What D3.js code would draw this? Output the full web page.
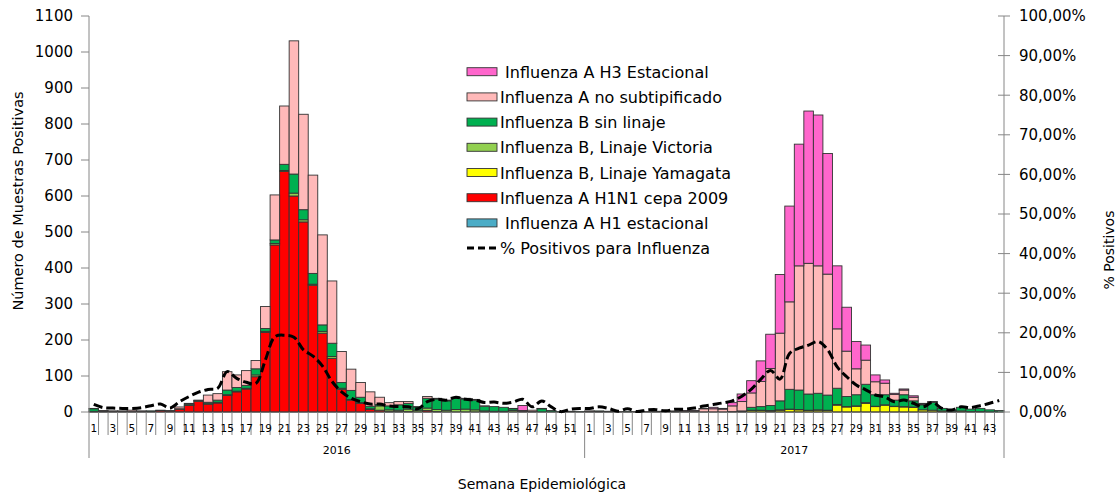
<!DOCTYPE html>
<html><head><meta charset="utf-8">
<script src="https://cdn.jsdelivr.net/npm/d3@7"></script>
<style>body{margin:0;background:#fff} svg{display:block} text{font-family:"DejaVu Sans",Verdana,sans-serif;fill:#000}</style>
</head><body><svg id="c" width="1116" height="494"></svg>
<script>
// ---------- DATA ----------
const years = ["2016", "2017"];
const weeks2016 = [1,2,3,4,5,6,7,8,9,10,11,12,13,14,15,16,17,18,19,20,21,22,23,24,25,26,27,28,29,30,31,32,33,34,35,36,37,38,39,40,41,42,43,44,45,46,47,48,49,50,51,52];
const weeks2017 = [1,2,3,4,5,6,7,8,9,10,11,12,13,14,15,16,17,18,19,20,21,22,23,24,25,26,27,28,29,30,31,32,33,34,35,36,37,38,39,40,41,42,43,44];

// values: 52 weeks of 2016 followed by 44 weeks of 2017
const h1Estacional = [
  0,0,0,0,0,0,0,0,0,0, 0,0,0,0,0,0,0,0,0,0, 0,0,0,0,0,0,0,0,0,0, 0,0,0,0,0,0,0,0,0,0, 0,0,0,0,0,0,0,0,0,0, 0,0,
  0,0,0,0,0,0,0,0,0,0, 0,0,0,0,0,0,0,0,0,0, 0,0,0,0,0,0,0,0,0,0, 0,0,0,0,0,0,0,0,0,0, 0,0,0,0];
const h1n1 = [
  1,1,1,1,1,2,2,4,3,8, 18,30,22,25,46,56,64,98,221,464, 668,600,528,352,219,149,63,33,24,7, 5,1,0,1,0,4,0,0,0,0, 0,0,0,0,0,0,0,0,0,0, 0,0,
  0,1,0,0,0,0,0,0,0,0, 0,0,0,0,0,0,0,0,0,0, 0,0,0,0,0,0,0,0,0,0, 0,0,0,0,0,0,0,0,0,0, 0,0,0,0];
const yamagata = [
  0,0,0,0,0,0,0,0,0,0, 0,0,0,0,0,0,0,0,0,0, 1,0,0,0,0,0,0,0,0,0, 0,0,1,0,0,0,1,0,0,0, 0,0,0,0,0,0,0,0,0,0, 0,0,
  0,0,0,0,0,0,0,0,0,1, 0,0,0,0,0,1,1,4,4,3, 5,7,6,4,5,4,19,14,16,24, 15,19,15,14,13,6,5,3,1,3, 1,1,0,0];
const victoria = [
  1,0,0,0,0,0,0,0,0,0, 1,0,1,2,2,2,2,5,3,4, 2,8,6,3,5,5,3,2,2,2, 12,5,4,7,5,7,6,5,7,8, 6,3,2,2,4,0,0,0,0,0, 0,0,
  0,0,0,0,0,0,0,0,0,0, 0,0,0,0,0,0,0,1,1,1, 1,1,1,1,1,1,2,1,1,2, 1,1,1,1,1,0,0,0,0,0, 0,0,0,0];
const bSinLinaje = [
  7,2,1,1,0,0,1,0,0,1, 3,2,4,6,13,10,8,17,8,10, 17,53,28,30,18,37,16,25,15,7, 4,11,15,16,9,27,29,26,32,28, 27,13,13,11,5,2,1,9,4,1, 2,1,
  2,2,2,0,1,0,0,0,1,0, 0,0,0,0,0,0,2,8,10,14, 25,55,54,45,46,42,45,28,31,51, 32,28,17,33,17,14,22,7,4,10, 7,9,6,4];
const aNoSubtip = [
  1,1,1,1,4,1,0,1,1,5, 2,1,20,18,51,35,41,23,61,125, 162,370,265,273,250,173,86,59,41,40, 20,9,9,5,1,5,2,2,2,2, 2,1,0,0,1,2,4,1,0,0, 0,0,
  1,0,0,1,0,1,1,2,1,2, 3,3,9,9,8,16,26,40,70,103, 188,243,345,363,354,336,165,126,72,67, 36,32,16,13,10,2,1,0,0,0, 0,0,0,0];
const h3Estacional = [
  0,0,0,0,0,0,0,0,0,0, 0,0,0,0,0,0,0,0,0,0, 0,0,0,0,0,0,0,0,0,0, 0,0,0,0,0,0,0,0,0,0, 0,0,0,0,0,14,0,0,0,0, 0,0,
  0,0,0,0,0,0,0,0,0,0, 1,1,1,4,2,9,21,34,57,95, 163,266,338,423,419,335,175,122,76,42, 19,9,3,3,4,2,1,0,0,0, 0,0,0,0];
// % positivos para influenza
const pctPositivos = [
  1.9,1.1,1.0,0.9,0.9,1.1,1.6,2.0,1.0,2.6, 3.9,5.0,5.7,6.0,10.2,8.5,7.5,7.2,13.1,19.0, 19.4,18.9,15.7,14.1,11.6,7.7,5.1,3.5,2.6,2.0,
  2.0,1.5,1.4,1.3,0.8,2.6,3.2,3.0,3.7,3.2, 3.0,2.4,2.5,2.2,2.5,3.2,1.3,2.8,1.3,0.1, 0.7,0.9,
  0.9,1.3,0.9,0.2,0.8,0.1,0.5,0.6,0.3,0.7, 0.7,1.0,1.5,1.9,2.3,2.8,4.0,5.8,8.3,10.5, 8.3,14.8,16.1,16.9,17.8,15.7,11.4,8.9,6.8,5.6,
  4.3,3.8,2.6,3.0,2.2,1.3,2.4,0.9,0.5,1.3, 1.1,1.6,2.2,2.9];

const leftTicks = [0,100,200,300,400,500,600,700,800,900,1000,1100];
const rightTicks = [0,0.1,0.2,0.3,0.4,0.5,0.6,0.7,0.8,0.9,1.0];

const seriesDefs = [
  {key:"h1", name:" Influenza A H1 estacional", color:"#4BACC6", values:h1Estacional},
  {key:"h1n1", name:"Influenza A H1N1 cepa 2009", color:"#FF0000", values:h1n1},
  {key:"yam", name:"Influenza B, Linaje Yamagata", color:"#FFFF00", values:yamagata},
  {key:"vic", name:"Influenza B, Linaje Victoria", color:"#92D050", values:victoria},
  {key:"bsl", name:"Influenza B sin linaje", color:"#00B050", values:bSinLinaje},
  {key:"ans", name:"Influenza A no subtipificado", color:"#FFB9B9", values:aNoSubtip},
  {key:"h3", name:" Influenza A H3 Estacional", color:"#FF66CC", values:h3Estacional}
];

// ---------- BUILD ----------
const cats = [];
weeks2016.forEach(w => cats.push({id:"2016-"+w, week:w, year:"2016"}));
weeks2017.forEach(w => cats.push({id:"2017-"+w, week:w, year:"2017"}));
const rows = cats.map((c,i) => {
  const r = {id:c.id};
  seriesDefs.forEach(s => r[s.key] = s.values[i]);
  return r;
});

const svg = d3.select("#c");
const L = 89, R = 1004, T = 16, B = 412;
const x = d3.scaleBand().domain(cats.map(c=>c.id)).range([L,R]).padding(0);
const y = d3.scaleLinear().domain([0,1100]).range([B,T]);
const yR = d3.scaleLinear().domain([0,1]).range([B,T]);
const axisColor = "#868686";

// bars
const stack = d3.stack().keys(seriesDefs.map(s=>s.key));
const stacked = stack(rows);
const g = svg.append("g");
stacked.forEach((layer, li) => {
  g.append("g").attr("fill", seriesDefs[li].color)
    .selectAll("rect").data(layer.filter(d => d[1]-d[0] > 0)).join("rect")
    .attr("x", d => x(d.data.id))
    .attr("width", x.bandwidth())
    .attr("y", d => y(d[1]))
    .attr("height", d => y(d[0]) - y(d[1]))
    .attr("stroke", "#333").attr("stroke-width", 0.9);
});

// x baseline
svg.append("line").attr("x1",L).attr("x2",R).attr("y1",B).attr("y2",B).attr("stroke","#444").attr("stroke-width",1);

// category separators
const boundaries = d3.range(1, cats.length);
svg.append("g").selectAll("line").data(boundaries).join("line")
  .attr("x1", i => x(cats[i].id)).attr("x2", i => x(cats[i].id))
  .attr("y1", B).attr("y2", i => cats[i].week === 1 ? 458 : 435)
  .attr("stroke", axisColor).attr("stroke-width", 1);

// week labels (odd weeks)
svg.append("g").selectAll("text").data(cats.filter(c => c.week % 2 === 1)).join("text")
  .attr("x", c => x(c.id) + x.bandwidth()/2).attr("y", 432)
  .attr("text-anchor","middle").attr("font-size","10.5px").text(c => c.week);

// year labels
years.forEach(yr => {
  const cs = cats.filter(c => c.year === yr);
  const x0 = x(cs[0].id), x1 = x(cs[cs.length-1].id) + x.bandwidth();
  svg.append("text").attr("x",(x0+x1)/2).attr("y",454).attr("text-anchor","middle")
    .attr("font-size","11px").text(yr);
});

// left axis
svg.append("line").attr("x1",L).attr("x2",L).attr("y1",T).attr("y2",458).attr("stroke",axisColor);
const lt = svg.append("g").selectAll("g").data(leftTicks).join("g");
lt.append("line").attr("x1",L-8).attr("x2",L).attr("y1",d=>y(d)).attr("y2",d=>y(d)).attr("stroke",axisColor);
lt.append("text").attr("x",73).attr("y",d=>y(d)).attr("dy","0.36em").attr("text-anchor","end")
  .attr("font-size","15px").text(d=>d);

// right axis
const fmt = d3.formatLocale({decimal:",", thousands:".", grouping:[3], currency:["",""]}).format(".2%");
svg.append("line").attr("x1",R).attr("x2",R).attr("y1",T).attr("y2",458).attr("stroke",axisColor);
const rt = svg.append("g").selectAll("g").data(rightTicks).join("g");
rt.append("line").attr("x1",R-6).attr("x2",R+6).attr("y1",d=>yR(d)).attr("y2",d=>yR(d)).attr("stroke",axisColor);
rt.append("text").attr("x",1019).attr("y",d=>yR(d)).attr("dy","0.36em").attr("text-anchor","start")
  .attr("font-size","15px").text(d=>fmt(d));

// percent line
const line = d3.line()
  .x((d,i) => x(cats[i].id) + x.bandwidth()/2)
  .y(d => yR(d/100))
  .curve(d3.curveCatmullRom.alpha(0.5));
svg.append("path").datum(pctPositivos).attr("d", line)
  .attr("fill","none").attr("stroke","#000").attr("stroke-width",3).attr("stroke-dasharray","9,4");

// axis titles
svg.append("text").attr("transform","translate(22.5,201) rotate(-90)").attr("text-anchor","middle")
  .attr("font-size","14.5px").text("Número de Muestras Positivas");
svg.append("text").attr("transform","translate(1114,250) rotate(-90)").attr("text-anchor","middle")
  .attr("font-size","14px").text("% Positivos");
svg.append("text").attr("x",542).attr("y",489).attr("text-anchor","middle")
  .attr("font-size","14px").text("Semana Epidemiológica");

// legend
const legendItems = seriesDefs.slice().reverse().map(s => ({name:s.name, color:s.color, type:"rect"}));
legendItems.push({name:"% Positivos para Influenza", type:"line"});
const lg = svg.append("g");
legendItems.forEach((it, i) => {
  const cy = 71.7 + i*25.2;
  if (it.type === "rect") {
    lg.append("rect").attr("x",467).attr("y",cy-4).attr("width",30).attr("height",8)
      .attr("fill",it.color).attr("stroke","#333").attr("stroke-width",0.9);
  } else {
    lg.append("line").attr("x1",467).attr("x2",497).attr("y1",cy).attr("y2",cy)
      .attr("stroke","#000").attr("stroke-width",3).attr("stroke-dasharray","7,4");
  }
  lg.append("text").attr("x",500).attr("y",cy+6).attr("font-size","16px")
    .style("white-space","pre").text(it.name);
});
</script></body></html>
